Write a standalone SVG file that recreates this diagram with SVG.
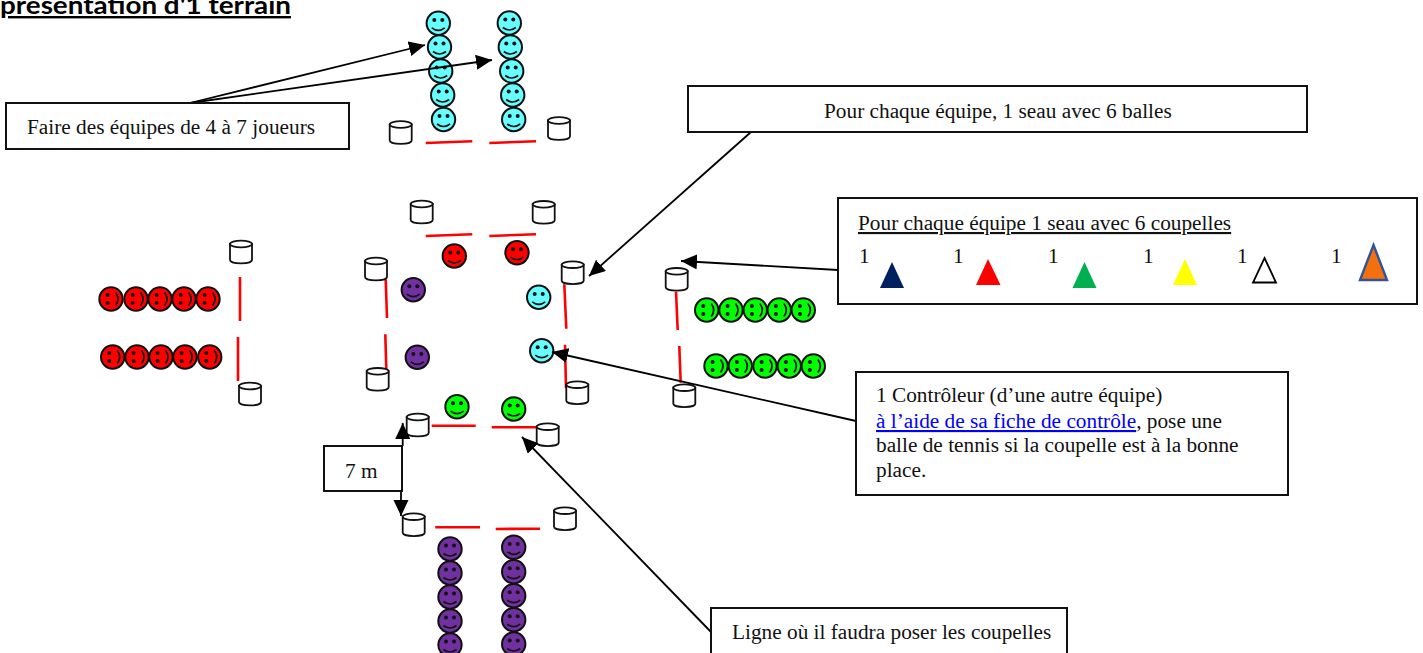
<svg xmlns="http://www.w3.org/2000/svg" width="1423" height="653" viewBox="0 0 1423 653">
<style>
text{font-family:"Liberation Serif","Times New Roman",serif;font-size:21.300px;fill:#111}
#title text{font-family:Lato,"Noto Sans",sans-serif;font-size:24px;font-weight:700;text-decoration:underline;fill:#000}
.box{fill:#fff;stroke:#111;stroke-width:2}
.lin{stroke:#f00;stroke-width:2.600;fill:none}
.arr{stroke:#000;stroke-width:1.800;fill:none;marker-end:url(#ah)}
.cy{fill:#66ffff}.rd{fill:#f00}.gr{fill:#0f0}.pu{fill:#7030a0}
</style>
<defs>
<marker id="ah" markerUnits="userSpaceOnUse" markerWidth="18" markerHeight="16" refX="16" refY="7.500" orient="auto"><path d="M0 0L16 7.500L0 15Z" fill="#000"/></marker>
<g id="s"><circle r="11.700" stroke="#111" stroke-width="2"/><circle cx="-4" cy="-3.400" r="2" fill="#111"/><circle cx="4" cy="-3.400" r="2" fill="#111"/><path d="M-6.500 4.500Q0 9.500 6.500 4.500" fill="none" stroke="#111" stroke-width="1.700"/></g>
<g id="b"><path d="M-11-8V8C-11 12.500 11 12.500 11 8V-8Z" fill="#fff" stroke="#111" stroke-width="1.800"/><ellipse cy="-8" rx="11" ry="3.300" fill="#fff" stroke="#111" stroke-width="1.800"/></g>
</defs>
<rect width="1423" height="653" fill="#fff"/>
<g id="title"><text x="0" y="14" textLength="291" lengthAdjust="spacingAndGlyphs">présentation d'1 terrain</text></g>
<g id="lines">
<path class="lin" d="M425.700 143L472.300 141.300M489.300 143L536 141.300"/>
<path class="lin" d="M425.700 236L472.300 234.300M489.300 236L536 234.300"/>
<path class="lin" d="M385.700 279.300L387 318M385.300 334.300L386.300 369"/>
<path class="lin" d="M564.300 284.300L566.300 328.700M565 344.700L566 388.300"/>
<path class="lin" d="M431.700 425.700H475.700M491.700 427.300H536.700"/>
<path class="lin" d="M435.300 527.300H480M495.700 529L540 528.700"/>
<path class="lin" d="M240 277V321M238 337V381"/>
<path class="lin" d="M676 291.700L677.700 330M679.300 346L680.700 382.700"/>
</g>
<g id="team-cyan" class="cy">
<use href="#s" x="438.300" y="23.300"/><use href="#s" x="439.500" y="47"/><use href="#s" x="440.700" y="71"/><use href="#s" x="442.700" y="95"/><use href="#s" x="443.500" y="119.500"/>
<use href="#s" x="509.300" y="23"/><use href="#s" x="510.300" y="47"/><use href="#s" x="511.700" y="71"/><use href="#s" x="512.700" y="95"/><use href="#s" x="513.700" y="119.500"/>
<use href="#s" x="538.700" y="297.300"/><use href="#s" x="541.700" y="350.700"/>
</g>
<g id="team-red" class="rd">
<use href="#s" transform="translate(111 299) rotate(-90)"/><use href="#s" transform="translate(136 299) rotate(-90)"/><use href="#s" transform="translate(160 299) rotate(-90)"/><use href="#s" transform="translate(184 299) rotate(-90)"/><use href="#s" transform="translate(208 299) rotate(-90)"/>
<use href="#s" transform="translate(112.700 357) rotate(-90)"/><use href="#s" transform="translate(137 357) rotate(-90)"/><use href="#s" transform="translate(161 357) rotate(-90)"/><use href="#s" transform="translate(185 357) rotate(-90)"/><use href="#s" transform="translate(209.700 357) rotate(-90)"/>
<use href="#s" x="454.300" y="256"/><use href="#s" x="517" y="252.700"/>
</g>
<g id="team-green" class="gr">
<use href="#s" transform="translate(706.700 310) rotate(-90)"/><use href="#s" transform="translate(731 310) rotate(-90)"/><use href="#s" transform="translate(755.300 310) rotate(-90)"/><use href="#s" transform="translate(779.300 310) rotate(-90)"/><use href="#s" transform="translate(803.300 310) rotate(-90)"/>
<use href="#s" transform="translate(716 366) rotate(-90)"/><use href="#s" transform="translate(740.300 366) rotate(-90)"/><use href="#s" transform="translate(765 366) rotate(-90)"/><use href="#s" transform="translate(789.300 366) rotate(-90)"/><use href="#s" transform="translate(813.300 366) rotate(-90)"/>
<use href="#s" x="457" y="406.700"/><use href="#s" x="513.700" y="409"/>
</g>
<g id="team-purple" class="pu">
<use href="#s" x="450" y="549"/><use href="#s" x="450" y="573"/><use href="#s" x="450" y="597"/><use href="#s" x="450" y="621"/><use href="#s" x="450" y="645"/>
<use href="#s" x="513.700" y="547.300"/><use href="#s" x="513.700" y="571.700"/><use href="#s" x="513.700" y="595.700"/><use href="#s" x="513.700" y="619.700"/><use href="#s" x="513.700" y="644"/>
<use href="#s" x="413.300" y="289.700"/><use href="#s" x="417.300" y="357.300"/>
</g>
<g id="buckets">
<use href="#b" x="400.700" y="132.500"/><use href="#b" x="559" y="128.500"/>
<use href="#b" x="421.700" y="212"/><use href="#b" x="543.700" y="212.300"/>
<use href="#b" x="376" y="269"/><use href="#b" x="572.700" y="272.700"/>
<use href="#b" x="377.700" y="379.300"/><use href="#b" x="577.300" y="392.700"/>
<use href="#b" x="417.700" y="425"/><use href="#b" x="547.700" y="434.700"/>
<use href="#b" x="413.700" y="524.700"/><use href="#b" x="565" y="518.700"/>
<use href="#b" x="241" y="252"/><use href="#b" x="250" y="394"/>
<use href="#b" x="676.700" y="279.300"/><use href="#b" x="684.300" y="395.700"/>
</g>
<g id="connectors">
<path class="arr" d="M190 103L425 45"/>
<path class="arr" d="M190 103L492 60"/>
<path class="arr" d="M751 132L589 276"/>
<path class="arr" d="M838 270L681 261"/>
<path class="arr" d="M856 421L552 352"/>
<path class="arr" d="M711 632L522 437"/>
<path class="arr" d="M402.700 446V423"/>
<path class="arr" d="M401 491V516"/>
</g>
<g id="box-equipes"><rect class="box" x="6" y="103" width="343" height="46"/><text x="27" y="134">Faire des équipes de 4 à 7 joueurs</text></g>
<g id="box-seau"><rect class="box" x="688" y="86" width="619" height="46"/><text x="824" y="118">Pour chaque équipe, 1 seau avec 6 balles</text></g>
<g id="box-coupelles"><rect class="box" x="838" y="198" width="579" height="106"/>
<text x="858" y="230" text-decoration="underline">Pour chaque équipe 1 seau avec 6 coupelles</text>
<text x="859" y="263">1</text><text x="953" y="263">1</text><text x="1048" y="263">1</text><text x="1143" y="263">1</text><text x="1237" y="263">1</text><text x="1331" y="263">1</text>
<path d="M892 262L904 288H880Z" fill="#002060"/>
<path d="M988 259L1000.500 285H976Z" fill="#f00"/>
<path d="M1084.500 262L1096.500 288H1072.500Z" fill="#00b050"/>
<path d="M1185 259L1197 285H1173Z" fill="#ff0"/>
<path d="M1264.500 258L1276 282.500H1253Z" fill="#fff" stroke="#000" stroke-width="1.800"/>
<path d="M1373.500 245L1387 280H1360Z" fill="#f4700f" stroke="#2f5597" stroke-width="2.400"/>
</g>
<g id="box-controleur"><rect class="box" x="856" y="372" width="432" height="123"/>
<text x="876" y="402">1 Contrôleur (d’une autre équipe)</text>
<text x="876" y="428"><tspan text-decoration="underline" style="fill:#0000ff">à l’aide de sa fiche de contrôle</tspan>, pose une</text>
<text x="876" y="452">balle de tennis si la coupelle est à la bonne</text>
<text x="876" y="477">place.</text></g>
<g id="box-ligne"><rect class="box" x="711" y="608" width="356" height="60"/><text x="732" y="639">Ligne où il faudra poser les coupelles</text></g>
<g id="box-7m"><rect class="box" x="324" y="446" width="78" height="45"/><text x="345" y="478">7 m</text></g>
</svg>
